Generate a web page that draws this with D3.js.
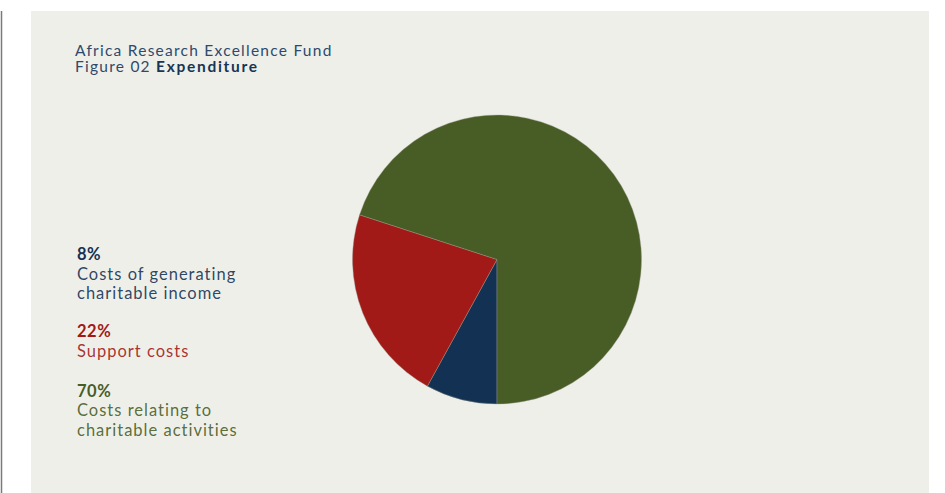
<!DOCTYPE html>
<html>
<head>
<meta charset="utf-8">
<script src="https://cdn.jsdelivr.net/npm/d3@7"></script>
<style>
  html, body { margin: 0; padding: 0; background: #ffffff; }
  svg { display: block; }
</style>
</head>
<body>
<svg id="chart" width="945" height="493"></svg>
<script>
const categories = ["Costs of generating charitable income", "Support costs", "Costs relating to charitable activities"];
const labelLines = [["Costs of generating", "charitable income"], ["Support costs"], ["Costs relating to", "charitable activities"]];
const values = [8, 22, 70];
const colors = ["#133253", "#a11a17", "#485d25"];
const titleLine1 = "Africa Research Excellence Fund";
const titlePrefix = "Figure 02 ";
const titleBold = "Expenditure";

const svg = d3.select("#chart");
const font = "Lato, 'Noto Sans', sans-serif";

// left rule
svg.append("line").attr("x1", 1.5).attr("x2", 1.5).attr("y1", 11).attr("y2", 493)
  .attr("stroke", "#7a7a7a").attr("stroke-width", 1.5);

// panel
svg.append("rect").attr("x", 31).attr("y", 11).attr("width", 898).attr("height", 482)
  .attr("fill", "#efefea");

// title block (one text, two lines)
const title = svg.append("text").attr("x", 75).attr("y", 55.5)
  .attr("font-family", font).attr("font-size", 15.5).attr("letter-spacing", 1.25)
  .attr("fill", "#2e4a6b");
title.append("tspan").attr("x", 75).text(titleLine1);
title.append("tspan").attr("x", 75).attr("dy", 16.3).text(titlePrefix);
title.append("tspan").attr("font-weight", "bold").attr("fill", "#163556").attr("letter-spacing", 1.7).text(titleBold);

// pie
const cx = 497, cy = 259.5, r = 144.5;
const pie = d3.pie().sort(null).value(d => d).startAngle(Math.PI).endAngle(3 * Math.PI);
const arc = d3.arc().innerRadius(0).outerRadius(r);
const g = svg.append("g").attr("transform", `translate(${cx},${cy})`);
g.selectAll("path").data(pie(values)).join("path")
  .attr("d", arc)
  .attr("fill", (d, i) => colors[i])
  .attr("stroke", "#9a9a8a").attr("stroke-width", 0.4);

// legend
const legendY = [260, 337, 396.5];
const lg = svg.append("g").attr("font-family", font);
values.forEach((v, i) => {
  const t = lg.append("text").attr("x", 77).attr("y", legendY[i])
    .attr("font-size", 16.5).attr("fill", colors[i]);
  t.append("tspan").attr("x", 77).attr("font-weight", "bold").attr("letter-spacing", 0.5).text(v + "%");
  labelLines[i].forEach(line => {
    t.append("tspan").attr("x", 77).attr("dy", 19.5)
      .attr("letter-spacing", 1.0).attr("fill-opacity", 0.9).text(line);
  });
});
</script>
</body>
</html>
